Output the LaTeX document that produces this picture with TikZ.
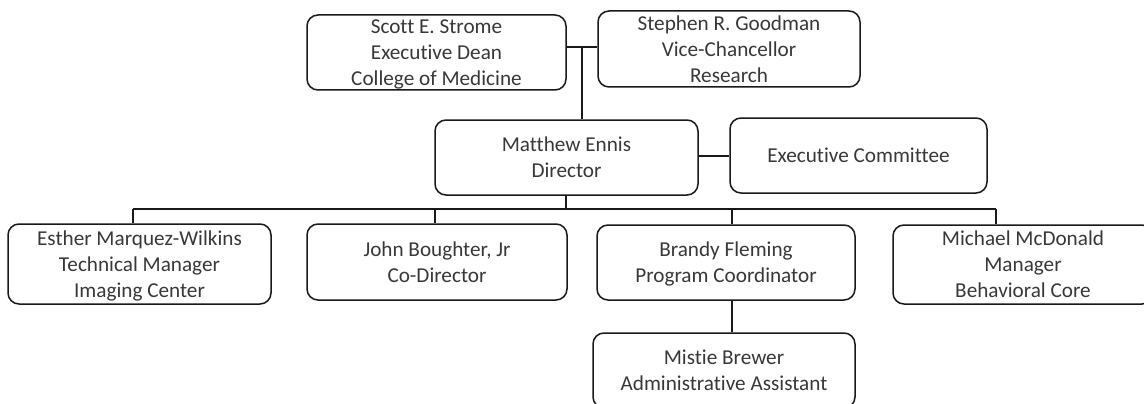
\documentclass[tikz,border=0pt]{standalone}
\usepackage{fontspec}
\setmainfont[Ligatures=NoCommon]{Carlito}
\begin{document}
\begin{tikzpicture}[x=1pt,y=-1pt,
  person/.style={draw=black!90, line width=1.5pt, rounded corners=11pt, inner sep=0pt,
    align=center, text=black!78, font=\fontsize{21.2}{26}\selectfont, text depth=0pt,
    minimum width=260pt, minimum height=76pt},
  link/.style={draw=black!90, line width=1.5pt}]
\useasboundingbox (0,0) rectangle (1144,404);
\clip (0,0) rectangle (1144,404);
% nodes
\node[person, minimum width=259pt, minimum height=75pt] (strome) at (436.5,52.5) {Scott E. Strome\\Executive Dean\\College of Medicine};
\node[person, minimum width=262pt] (goodman) at (729,49) {Stephen R. Goodman\\Vice-Chancellor\\Research};
\node[person, minimum width=263pt, minimum height=75pt] (ennis) at (566.5,157.5) {Matthew Ennis\\Director};
\node[person, minimum width=257pt, minimum height=75pt] (exec) at (858.5,155.5) {Executive Committee};
\node[person, minimum width=263pt, minimum height=80pt] (esther) at (139.5,264) {Esther Marquez-Wilkins\\Technical Manager\\Imaging Center};
\node[person] (john) at (437,262) {John Boughter, Jr\\Co-Director};
\node[person, minimum width=258pt, minimum height=75pt] (brandy) at (726,262.5) {Brandy Fleming\\Program Coordinator};
\node[person, minimum height=79pt] (mcdonald) at (1023,264.5) {Michael McDonald\\Manager\\Behavioral Core};
\node[person, minimum width=262pt, minimum height=75pt] (mistie) at (724,370.5) {Mistie Brewer\\Administrative Assistant};
% junction coordinates
\coordinate (topj) at (582,47);
\coordinate (dirj) at (566,209);
\coordinate (busl) at (133,209);
\coordinate (busr) at (996,209);
\coordinate (bj) at (435,209);
\coordinate (cj) at (732,209);
\coordinate (ej) at (700,156);
% connectors
\draw[link] (strome.east |- topj) -- (goodman.west |- topj);
\draw[link] (topj) -- (topj |- ennis.north);
\draw[link] (ennis.east |- ej) -- (exec.west |- ej);
\draw[link] (dirj |- ennis.south) -- (dirj);
\draw[link] (busl) -- (busr);
\draw[link] (busl) -- (busl |- esther.north);
\draw[link] (bj) -- (bj |- john.north);
\draw[link] (cj) -- (cj |- brandy.north);
\draw[link] (busr) -- (busr |- mcdonald.north);
\draw[link] (cj |- brandy.south) -- (cj |- mistie.north);
\end{tikzpicture}
\end{document}
